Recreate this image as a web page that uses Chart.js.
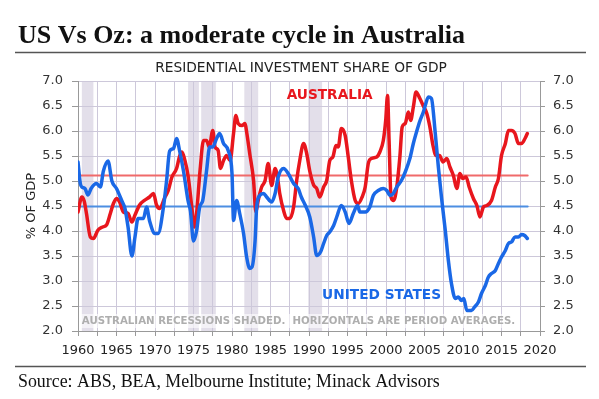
<!DOCTYPE html>
<html>
<head>
<meta charset="utf-8">
<script src="https://cdn.jsdelivr.net/npm/chart.js@4.4.1/dist/chart.umd.min.js"></script>
<style>
  html, body { margin: 0; padding: 0; background: #fff; overflow: hidden; }
</style>
</head>
<body>
<canvas id="chart" width="599" height="399"></canvas>
<script>
// residential investment, % of GDP
const ausYears = [1960.0,1960.5,1960.8,1961.1,1961.6,1962.0,1962.6,1963.2,1963.7,1964.2,1964.6,1965.0,1965.4,1965.9,1966.5,1967.0,1967.4,1968.0,1968.7,1969.3,1969.8,1970.2,1970.6,1971.3,1971.7,1972.2,1972.8,1973.2,1973.5,1973.9,1974.3,1974.8,1975.1,1975.4,1975.85,1976.3,1976.7,1977.05,1977.5,1977.8,1978.2,1978.5,1978.9,1979.3,1979.75,1980.2,1980.5,1980.8,1981.3,1981.7,1981.9,1982.3,1982.8,1983.1,1983.4,1983.85,1984.3,1984.7,1985.15,1985.6,1985.9,1986.2,1986.7,1987.1,1987.5,1988.0,1988.4,1988.8,1989.3,1989.7,1990.1,1990.6,1991.0,1991.4,1991.9,1992.3,1992.7,1993.1,1993.5,1993.8,1994.2,1994.7,1995.1,1995.5,1996.0,1996.4,1996.9,1997.3,1997.7,1998.1,1998.8,1999.2,1999.65,1999.96,2000.2,2000.4,2000.65,2001.0,2001.4,2001.8,2002.1,2002.5,2002.9,2003.2,2003.55,2003.9,2004.4,2004.85,2005.3,2005.7,2006.1,2006.5,2006.95,2007.4,2007.9,2008.3,2008.75,2009.2,2009.6,2009.95,2010.4,2010.8,2011.35,2011.8,2012.2,2012.65,2013.1,2013.7,2014.2,2014.6,2015.0,2015.5,2015.9,2016.3,2016.75,2017.2,2017.6,2018.05,2018.35];
const ausShare = [4.38,4.68,4.60,4.35,3.88,3.85,4.02,4.08,4.12,4.35,4.55,4.65,4.58,4.38,4.35,4.18,4.32,4.52,4.62,4.68,4.75,4.52,4.45,4.68,4.80,5.08,5.25,5.50,5.58,5.40,5.10,4.45,4.08,4.35,5.21,5.81,5.81,5.68,6.01,5.68,5.61,5.25,5.41,5.51,5.41,5.95,6.31,6.15,6.11,6.15,5.98,5.55,5.01,4.38,4.61,4.88,5.01,5.35,4.91,5.25,5.08,4.75,4.41,4.25,4.25,4.48,5.01,5.41,5.75,5.55,5.20,4.92,4.85,4.68,4.88,5.01,5.41,5.48,5.71,5.68,6.05,5.91,5.48,5.01,4.61,4.55,4.68,4.88,5.35,5.45,5.48,5.58,5.81,6.21,6.71,5.81,4.68,4.61,4.88,5.48,6.08,6.15,6.38,6.21,6.48,6.78,6.65,6.50,6.35,6.08,5.71,5.51,5.51,5.38,5.45,5.28,5.11,4.85,5.15,5.05,5.08,4.88,4.65,4.51,4.28,4.48,4.51,4.61,4.88,5.05,5.51,5.75,6.01,6.01,5.95,5.75,5.75,5.85,5.95];

const usYears = [1960.0,1960.3,1960.5,1960.9,1961.3,1961.7,1962.4,1962.9,1963.3,1963.9,1964.4,1965.0,1965.7,1966.1,1966.5,1967.0,1967.4,1967.8,1968.5,1968.9,1969.3,1970.0,1970.4,1971.1,1971.5,1971.9,1972.4,1972.8,1973.2,1973.7,1974.3,1974.6,1975.0,1975.4,1975.8,1976.2,1976.7,1977.1,1977.5,1978.0,1978.4,1978.9,1979.5,1980.0,1980.2,1980.6,1981.0,1981.5,1981.9,1982.3,1982.6,1983.0,1983.2,1983.6,1984.1,1984.5,1985.15,1985.6,1986.0,1986.7,1987.3,1988.0,1988.6,1989.0,1989.5,1990.1,1990.6,1991.0,1991.5,1991.9,1992.3,1992.7,1993.2,1993.6,1994.2,1994.7,1995.2,1995.75,1996.3,1996.6,1997.3,1997.9,1998.35,1999.0,1999.65,2000.1,2000.5,2000.95,2001.4,2002.0,2002.5,2003.1,2003.55,2004.0,2004.4,2004.85,2005.1,2005.5,2005.9,2006.4,2006.8,2007.2,2007.7,2008.1,2008.5,2009.0,2009.4,2009.8,2010.1,2010.5,2011.1,2011.5,2012.0,2012.4,2012.9,2013.3,2013.7,2014.2,2014.6,2015.0,2015.5,2015.9,2016.3,2016.75,2017.2,2017.6,2018.0,2018.35];
const usShare = [5.38,4.95,4.88,4.85,4.72,4.85,4.95,4.88,5.20,5.40,5.00,4.85,4.60,4.45,4.08,3.50,3.88,4.25,4.25,4.48,4.20,3.95,3.95,4.48,5.00,5.60,5.65,5.85,5.60,5.20,4.60,4.40,3.80,4.00,4.48,4.61,5.21,5.68,5.68,5.85,5.95,5.75,5.61,5.15,4.21,4.61,4.35,3.95,3.48,3.25,3.28,3.81,4.48,4.71,4.75,4.68,4.58,4.75,5.08,5.25,5.15,4.95,4.85,4.68,4.52,4.28,3.88,3.51,3.58,3.75,3.91,3.98,4.11,4.28,4.51,4.38,4.15,4.35,4.51,4.38,4.38,4.48,4.71,4.81,4.85,4.81,4.71,4.75,4.88,5.01,5.18,5.45,5.75,6.00,6.20,6.38,6.51,6.68,6.65,5.95,5.28,4.68,4.01,3.41,2.95,2.65,2.68,2.61,2.65,2.41,2.41,2.48,2.58,2.75,2.91,3.08,3.15,3.21,3.35,3.48,3.61,3.75,3.78,3.88,3.88,3.93,3.91,3.85];

// period averages (horizontal lines)
const avgYears = [1960, 2018.4];
const ausAverage = 5.11;
const usAverage = 4.49;

// Australian recessions, [start, end]
const recessions = [[1960.5, 1962.0], [1974.3, 1975.7], [1976.0, 1977.9], [1981.6, 1983.4], [1989.9, 1991.7]];

const xTickStep = 2.5;
const yMin = 2, yMax = 7, yStep = 0.5;

const RED = '#e8161d';
const BLUE = '#1a68e6';
const SANS = '"DejaVu Sans", Verdana, sans-serif';
const SERIF = '"Liberation Serif", "DejaVu Serif", serif';

const toPoints = (xs, ys) => xs.map((x, i) => ({ x: x, y: ys[i] }));

// draws text scaled so it fills a given width
function fitText(ctx, text, weight, family, x, y, width, align) {
  ctx.font = weight + ' 20px ' + family;
  const size = 20 * width / ctx.measureText(text).width;
  ctx.font = weight + ' ' + size.toFixed(2) + 'px ' + family;
  ctx.textAlign = align || 'left';
  ctx.fillText(text, x, y);
}

const decorations = {
  id: 'decorations',
  beforeDraw(chart) {
    const { ctx, chartArea, scales } = chart;
    ctx.save();
    ctx.fillStyle = '#e3dfea';
    recessions.forEach(([a, b]) => {
      const x0 = scales.x.getPixelForValue(a);
      const x1 = scales.x.getPixelForValue(b);
      ctx.fillRect(x0, chartArea.top, x1 - x0, chartArea.bottom - chartArea.top);
    });
    ctx.restore();
  },
  afterDatasetsDraw(chart) {
    const { ctx, scales } = chart;
    const x = scales.x, y = scales.y;
    ctx.save();
    ctx.textBaseline = 'middle';

    // recession note with a pale backing
    ctx.fillStyle = 'rgba(255,255,255,0.6)';
    ctx.fillRect(x.getPixelForValue(1960.3), y.getPixelForValue(2.34), x.getPixelForValue(2017.3) - x.getPixelForValue(1960.3), 14);
    ctx.fillStyle = '#aeaeae';
    fitText(ctx, 'AUSTRALIAN RECESSIONS SHADED.  HORIZONTALS ARE PERIOD AVERAGES.', 'bold', SANS,
      x.getPixelForValue(1960.5), y.getPixelForValue(2.2), 434);

    ctx.fillStyle = RED;
    fitText(ctx, 'AUSTRALIA', 'bold', SANS, x.getPixelForValue(1987.1), y.getPixelForValue(6.72), 86);
    ctx.fillStyle = BLUE;
    fitText(ctx, 'UNITED STATES', 'bold', SANS, x.getPixelForValue(1991.7), y.getPixelForValue(2.72), 119);
    ctx.restore();
  },
  afterDraw(chart) {
    const { ctx, scales } = chart;
    ctx.save();
    ctx.fillStyle = '#111';
    ctx.textBaseline = 'alphabetic';
    fitText(ctx, 'US Vs Oz: a moderate cycle in Australia', 'bold', SERIF, 18, 43, 447);

    ctx.strokeStyle = '#555';
    ctx.lineWidth = 1.5;
    ctx.beginPath();
    ctx.moveTo(15, 52.5); ctx.lineTo(586, 52.5);
    ctx.moveTo(15, 366.5); ctx.lineTo(586, 366.5);
    ctx.stroke();

    ctx.fillStyle = '#222';
    ctx.textBaseline = 'middle';
    fitText(ctx, 'RESIDENTIAL INVESTMENT SHARE OF GDP', 'normal', SANS, 301, 68, 292, 'center');

    ctx.fillStyle = '#111';
    ctx.textBaseline = 'alphabetic';
    fitText(ctx, 'Source: ABS, BEA, Melbourne Institute; Minack Advisors', 'normal', SERIF, 18, 387, 422);

    // left axis title
    ctx.fillStyle = '#222';
    ctx.textBaseline = 'middle';
    ctx.translate(32, (scales.y.top + scales.y.bottom) / 2);
    ctx.rotate(-Math.PI / 2);
    ctx.font = '13px ' + SANS;
    ctx.textAlign = 'center';
    ctx.fillText('% OF GDP', 0, 0);
    ctx.restore();
  }
};

const gridColor = '#cdc8da';
const yTicks = {
  stepSize: yStep,
  color: '#333',
  font: { family: SANS, size: 13 },
  callback: v => v.toFixed(1)
};

new Chart(document.getElementById('chart'), {
  type: 'line',
  data: {
    datasets: [
      { data: toPoints(avgYears, [ausAverage, ausAverage]), borderColor: '#f06a6a', borderWidth: 2, order: 3 },
      { data: toPoints(avgYears, [usAverage, usAverage]), borderColor: '#4c8ee2', borderWidth: 2, order: 3 },
      { data: toPoints(ausYears, ausShare), borderColor: RED, borderWidth: 3.5, order: 2 },
      { data: toPoints(usYears, usShare), borderColor: BLUE, borderWidth: 3.5, order: 1 }
    ]
  },
  options: {
    responsive: false,
    animation: false,
    events: [],
    layout: { padding: { top: 81, bottom: 0, left: 0, right: 0 } },
    elements: {
      point: { radius: 0 },
      line: { cubicInterpolationMode: 'monotone', borderCapStyle: 'round', borderJoinStyle: 'round' }
    },
    plugins: { legend: { display: false }, tooltip: { enabled: false }, title: { display: false } },
    scales: {
      x: {
        type: 'linear',
        min: 1960, max: 2020,
        afterFit: s => { s.height = 68; },
        grid: { color: gridColor, tickLength: 5, tickColor: '#999' },
        border: { color: '#999' },
        ticks: {
          stepSize: xTickStep,
          autoSkip: false,
          maxRotation: 0,
          padding: 7,
          color: '#222',
          font: { family: SANS, size: 13 },
          callback: v => (v % 5 === 0 ? String(v) : '')
        }
      },
      y: {
        position: 'left',
        min: yMin, max: yMax,
        afterFit: s => { s.width = 78; },
        grid: { color: gridColor, tickLength: 6, tickColor: '#999' },
        border: { color: '#999' },
        ticks: Object.assign({ padding: 9 }, yTicks)
      },
      y2: {
        position: 'right',
        min: yMin, max: yMax,
        afterFit: s => { s.width = 59; },
        grid: { drawOnChartArea: false, tickLength: 5, tickColor: '#999' },
        border: { color: '#999' },
        ticks: Object.assign({ padding: 8 }, yTicks)
      }
    }
  },
  plugins: [decorations]
});
</script>
</body>
</html>
